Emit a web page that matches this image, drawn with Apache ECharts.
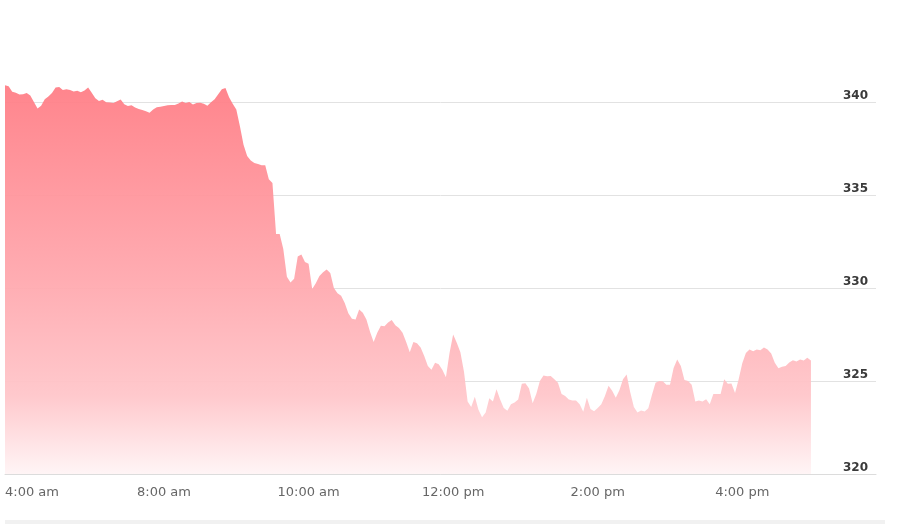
<!DOCTYPE html>
<html>
<head>
<meta charset="utf-8">
<title>Intraday price</title>
<script src="https://cdn.jsdelivr.net/npm/echarts@6/dist/echarts.min.js"></script>
<style>
  html, body { margin: 0; padding: 0; background: #fff; }
  #chart { width: 901px; height: 524px; }
  .footer-band {
    position: absolute;
    left: 5px;
    top: 520px;
    width: 880px;
    height: 4px;
    background: #f1f1f1;
  }
</style>
</head>
<body>
<div id="chart"></div>
<div class="footer-band"></div>
<script>
// tick labels shown on the time axis
const tickLabels = ['4:00 am', '8:00 am', '10:00 am', '12:00 pm', '2:00 pm', '4:00 pm'];

// price levels shown on the value axis
const priceTicks = { min: 320, max: 340, step: 5 };

// price per point: pre-market (4:00-8:00, sparse) then 3-minute points from 8:00
const prices = [
  340.9, 340.85, 340.55, 340.5, 340.4, 340.42, 340.48, 340.35, 340.0, 339.65,
  339.8, 340.15, 340.3, 340.48, 340.78, 340.8, 340.65, 340.68, 340.65, 340.57,
  340.6, 340.52, 340.62, 340.78, 340.5, 340.2, 340.05, 340.12, 339.98, 339.97,
  339.95, 340.04, 340.13, 339.88, 339.79, 339.83, 339.71, 339.63, 339.57, 339.5,
  339.42, 339.6, 339.72, 339.75, 339.78, 339.82, 339.84, 339.84, 339.92, 340.03,
  339.95, 340.0, 339.86, 339.95, 339.96, 339.9, 339.8, 339.98, 340.15, 340.42,
  340.68, 340.75, 340.25, 339.9, 339.6, 338.7, 337.7, 337.1, 336.85, 336.72,
  336.67, 336.6, 336.6, 335.85, 335.65, 332.9, 332.9, 332.1, 330.6, 330.3,
  330.5, 331.7, 331.8, 331.4, 331.3, 329.95, 330.25, 330.65, 330.85, 331.0,
  330.8, 330.0, 329.72, 329.58, 329.2, 328.64, 328.35, 328.3, 328.85, 328.67,
  328.3, 327.65, 327.1, 327.6, 327.97, 327.95, 328.15, 328.28, 328.0, 327.85,
  327.6, 327.1, 326.55, 327.1, 327.03, 326.8, 326.35, 325.8, 325.6, 325.98,
  325.9, 325.6, 325.2, 326.5, 327.5, 327.05, 326.55, 325.5, 323.9, 323.6,
  324.15, 323.45, 323.05, 323.3, 324.07, 323.9, 324.55, 324.0, 323.55, 323.4,
  323.75, 323.85, 324.0, 324.85, 324.88, 324.6, 323.8, 324.3, 325.0, 325.3,
  325.25, 325.27, 325.1, 324.9, 324.3, 324.2, 324.0, 323.95, 323.95, 323.75,
  323.35, 324.1, 323.5, 323.37, 323.55, 323.75, 324.2, 324.75, 324.47, 324.1,
  324.5, 325.1, 325.35, 324.4, 323.6, 323.3, 323.42, 323.36, 323.53, 324.25,
  324.9, 325.0, 324.98, 324.8, 324.8, 325.7, 326.15, 325.8, 325.05, 325.0,
  324.8, 323.9, 323.95, 323.9, 324.02, 323.75, 324.3, 324.3, 324.3, 325.1,
  324.85, 324.87, 324.35, 325.1, 325.95, 326.5, 326.7, 326.6, 326.7, 326.65,
  326.8, 326.7, 326.48, 325.98, 325.68, 325.77, 325.8, 326.0, 326.12, 326.05,
  326.15, 326.1, 326.25, 326.1
];

function fmtTime(mins) {
  const h = Math.floor(mins / 60);
  const m = mins % 60;
  const h12 = h % 12 === 0 ? 12 : h % 12;
  return h12 + ':' + String(m).padStart(2, '0') + ' ' + (h < 12 ? 'am' : 'pm');
}

// axis slots: 44 pre-market steps 4:00-8:00, then 3-minute steps to ~5:51 pm
const categories = [];
for (let i = 0; i <= 44; i++) categories.push(fmtTime(240 + Math.round(i * 240 / 44)));
for (let k = 1; k <= 197; k++) categories.push(fmtTime(480 + 3 * k));

const chart = echarts.init(document.getElementById('chart'));

chart.setOption({
  animation: false,
  grid: { left: 5, right: 25, top: 102, bottom: 50, containLabel: false },
  xAxis: {
    type: 'category',
    data: categories,
    boundaryGap: false,
    axisLine: { show: true, lineStyle: { color: '#dcdcdc' } },
    axisTick: { show: false },
    axisLabel: {
      interval: (idx, val) => tickLabels.includes(val),
      alignMinLabel: 'left',
      color: '#666',
      fontFamily: 'DejaVu Sans',
      fontSize: 13,
      margin: 12
    },
    splitLine: { show: false }
  },
  yAxis: {
    type: 'value',
    position: 'right',
    min: priceTicks.min,
    max: priceTicks.max,
    interval: priceTicks.step,
    axisLine: { show: false },
    axisTick: { show: false },
    axisLabel: {
      inside: true,
      margin: 8,
      color: '#3a3a3a',
      fontFamily: 'DejaVu Sans',
      fontWeight: 'bold',
      fontSize: 12,
      verticalAlign: 'bottom',
      padding: [0, 0, 0, 0]
    },
    splitLine: { lineStyle: { color: '#e2e2e2', width: 1 } }
  },
  series: [
    {
      type: 'line',
      data: prices,
      showSymbol: false,
      silent: true,
      clip: false,
      lineStyle: { width: 0 },
      areaStyle: {
        origin: 'start',
        opacity: 0.95,
        color: new echarts.graphic.LinearGradient(0, 0, 0, 1, [
          { offset: 0, color: '#ff7e86' },
          { offset: 0.5, color: '#ffa8ae' },
          { offset: 0.8, color: '#ffc6ca' },
          { offset: 1, color: '#fff4f5' }
        ])
      }
    }
  ]
});
</script>
</body>
</html>
